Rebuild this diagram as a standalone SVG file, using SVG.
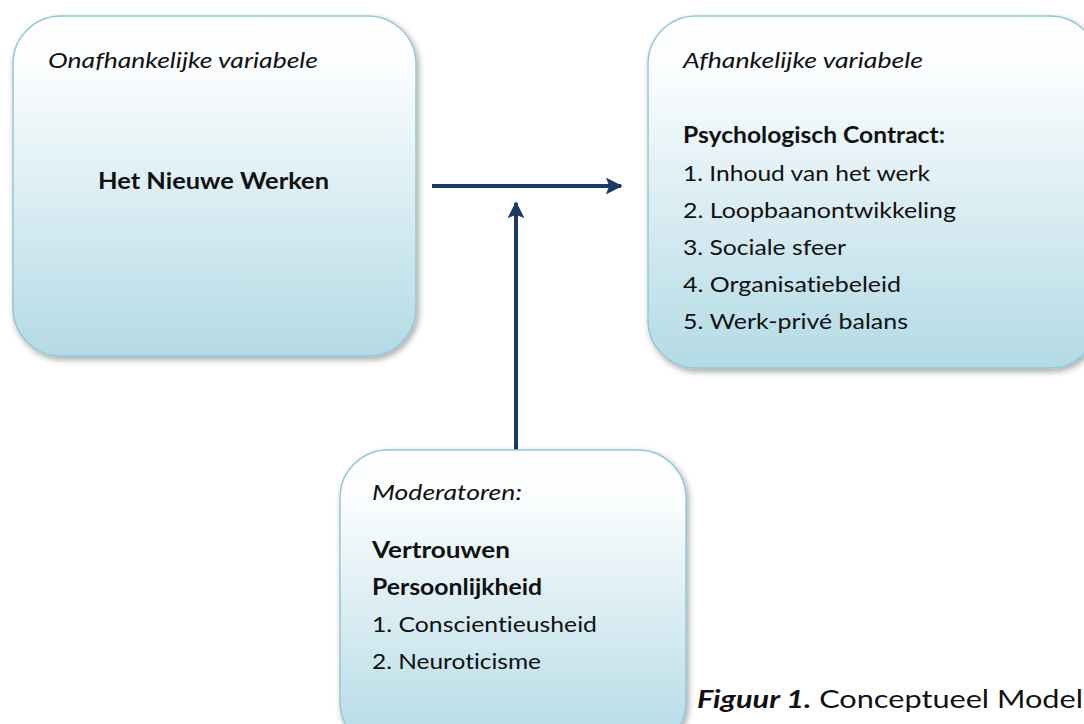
<svg xmlns="http://www.w3.org/2000/svg" width="1084" height="724" viewBox="0 0 1084 724">
<defs>
<linearGradient id="g" x1="0" y1="0" x2="0" y2="1">
<stop offset="0" stop-color="#ffffff"/>
<stop offset="0.15" stop-color="#fbfdfe"/>
<stop offset="1" stop-color="#b3dae5"/>
</linearGradient>
<filter id="sh" x="-10%" y="-10%" width="120%" height="120%">
<feGaussianBlur in="SourceAlpha" stdDeviation="3"/>
<feOffset dx="2" dy="3" result="b"/>
<feComponentTransfer><feFuncA type="linear" slope="0.35"/></feComponentTransfer>
<feMerge><feMergeNode/><feMergeNode in="SourceGraphic"/></feMerge>
</filter>
<marker id="ah" viewBox="0 0 10 10" refX="9" refY="5" markerWidth="4.6" markerHeight="4.2" orient="auto" markerUnits="strokeWidth">
<path d="M0,0 L10,5 L0,10 L2,5 z" fill="#1b3a66"/>
</marker>
</defs>
<style>
.box{fill:url(#g);stroke:#93c7d6;stroke-width:1.5;filter:url(#sh)}
text{font-family:Lato,"Open Sans","Liberation Sans",sans-serif;fill:#111;font-size:22px;font-variant-ligatures:none}
.i{font-style:italic}
.b{font-weight:bold}
.c{stroke:#1b3a66;stroke-width:4;fill:none}
</style>
<rect width="1084" height="724" fill="#ffffff"/>
<g id="connectors">
<line class="c" x1="432" y1="186" x2="621" y2="186" marker-end="url(#ah)"/>
<line class="c" x1="516" y1="450" x2="516" y2="203" marker-end="url(#ah)"/>
</g>
<g id="node-onafhankelijk">
<rect class="box" x="13" y="16" width="403" height="340" rx="48"/>
<text class="i" x="48" y="68" textLength="270" lengthAdjust="spacingAndGlyphs">Onafhankelijke variabele</text>
<text class="b" x="98" y="189" textLength="231" lengthAdjust="spacingAndGlyphs">Het Nieuwe Werken</text>
</g>
<g id="node-afhankelijk">
<rect class="box" x="648" y="16" width="450" height="352" rx="48"/>
<text class="i" x="683" y="68" textLength="240" lengthAdjust="spacingAndGlyphs">Afhankelijke variabele</text>
<text class="b" x="683" y="143" textLength="262" lengthAdjust="spacingAndGlyphs">Psychologisch Contract:</text>
<text x="683" y="181" textLength="247" lengthAdjust="spacingAndGlyphs">1. Inhoud van het werk</text>
<text x="683" y="218" textLength="273" lengthAdjust="spacingAndGlyphs">2. Loopbaanontwikkeling</text>
<text x="683" y="255" textLength="163" lengthAdjust="spacingAndGlyphs">3. Sociale sfeer</text>
<text x="683" y="292" textLength="218" lengthAdjust="spacingAndGlyphs">4. Organisatiebeleid</text>
<text x="683" y="329" textLength="225" lengthAdjust="spacingAndGlyphs">5. Werk-privé balans</text>
</g>
<g id="node-moderatoren">
<rect class="box" x="340" y="450" width="346" height="300" rx="48"/>
<text class="i" x="372" y="500" textLength="150" lengthAdjust="spacingAndGlyphs">Moderatoren:</text>
<text class="b" x="372" y="558" textLength="138" lengthAdjust="spacingAndGlyphs">Vertrouwen</text>
<text class="b" x="372" y="595" textLength="170" lengthAdjust="spacingAndGlyphs">Persoonlijkheid</text>
<text x="372" y="632" textLength="225" lengthAdjust="spacingAndGlyphs">1. Conscientieusheid</text>
<text x="372" y="669" textLength="169" lengthAdjust="spacingAndGlyphs">2. Neuroticisme</text>
</g>
<g id="caption">
<text x="697" y="708" style="font-size:25px" textLength="386" lengthAdjust="spacingAndGlyphs"><tspan class="b i">Figuur 1.</tspan> Conceptueel Model</text>
</g>
</svg>
